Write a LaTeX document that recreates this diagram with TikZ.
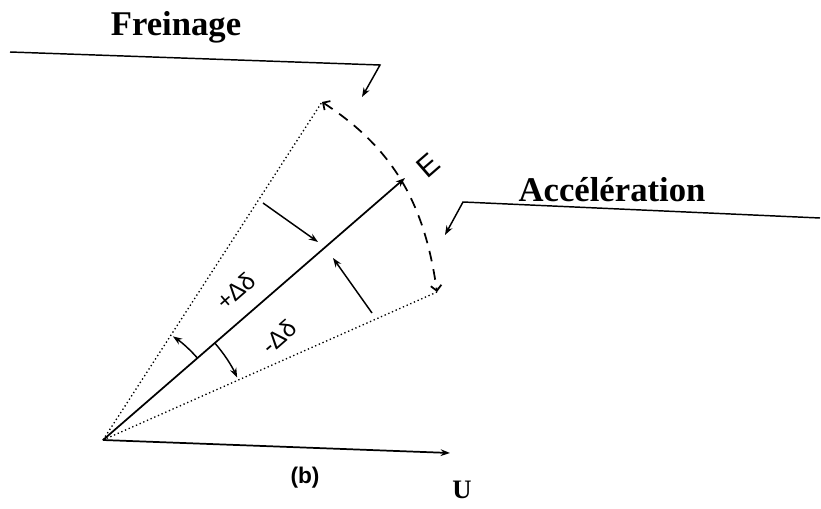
\documentclass[tikz,border=0pt]{standalone}
\usepackage{fontspec}
\setmainfont{Liberation Serif}
\setsansfont{Liberation Sans}
\usetikzlibrary{arrows.meta,calc}

\begin{document}
\begin{tikzpicture}[
  x=0.75pt, y=0.75pt,
  vec/.style={line width=1.3pt},
  lim/.style={dotted, line width=1pt},
  lead/.style={line width=1.1pt},
  lbl/.style={font=\bfseries\fontsize{26}{30}\selectfont, inner sep=0pt},
  hand/.style={font=\sffamily\fontsize{18}{20}\selectfont, inner sep=0pt, rotate=41},
  >={Stealth[length=7pt, width=5pt]},
]
\useasboundingbox (0,0) rectangle (821,508);

% origin and vector tips
\coordinate (O) at (103,68);
\coordinate (Utip) at (450,55);
\coordinate (Etip) at (405,330);
\coordinate (up) at (322,406);
\coordinate (low) at (437,216);

\draw[vec, ->] (O) -- (Utip);
\draw[vec, ->] (O) -- (Etip);
\draw[lim] (O) -- (up);
\draw[lim] (O) -- (low);

% swing of E between the two limits
\draw[line width=1.3pt, dash pattern=on 8pt off 6pt, {Straight Barb[length=4pt]}-{Straight Barb[length=4pt]}]
  (up) to[out=-33, in=98] (low);

% swing arrows
\coordinate (a1) at (263,305);
\coordinate (a2) at (318,266);
\coordinate (b1) at (372,195);
\coordinate (b2) at (333,250);
\draw[lead, ->] (a1) -- (a2);
\draw[lead, ->] (b1) -- (b2);

% angle arcs
\draw[lead, ->] ([shift={(41:125)}]O) arc[start angle=41, end angle=56, radius=93.75pt];
\draw[lead, ->] ([shift={(41:148)}]O) arc[start angle=41, end angle=25, radius=111pt];

% labels
\node[lbl] (fr) at (176,481) {Freinage};
\node[lbl] (acc) at (612,318) {Accélération};
\node[font=\bfseries\fontsize{20}{22}\selectfont, inner sep=0pt] (U) at (462,18) {U};
\node[font=\sffamily\bfseries\fontsize{17}{19}\selectfont, inner sep=0pt] (b) at (305,30) {(b)};
\node[hand, font=\sffamily\fontsize{22}{24}\selectfont] (E) at (428,343) {E};
\node[hand] (pd) at (236,217) {+Δδ};
\node[hand] (md) at (279,171) {-Δδ};

% leaders
\coordinate (f1) at (10,456);
\coordinate (f2) at (380,443);
\coordinate (f3) at (362,411);
\draw[lead, ->] (f1) -- (f2) -- (f3);
\coordinate (c1) at (820,290);
\coordinate (c2) at (463,306);
\coordinate (c3) at (445,273);
\draw[lead, ->] (c1) -- (c2) -- (c3);
\end{tikzpicture}
\end{document}
